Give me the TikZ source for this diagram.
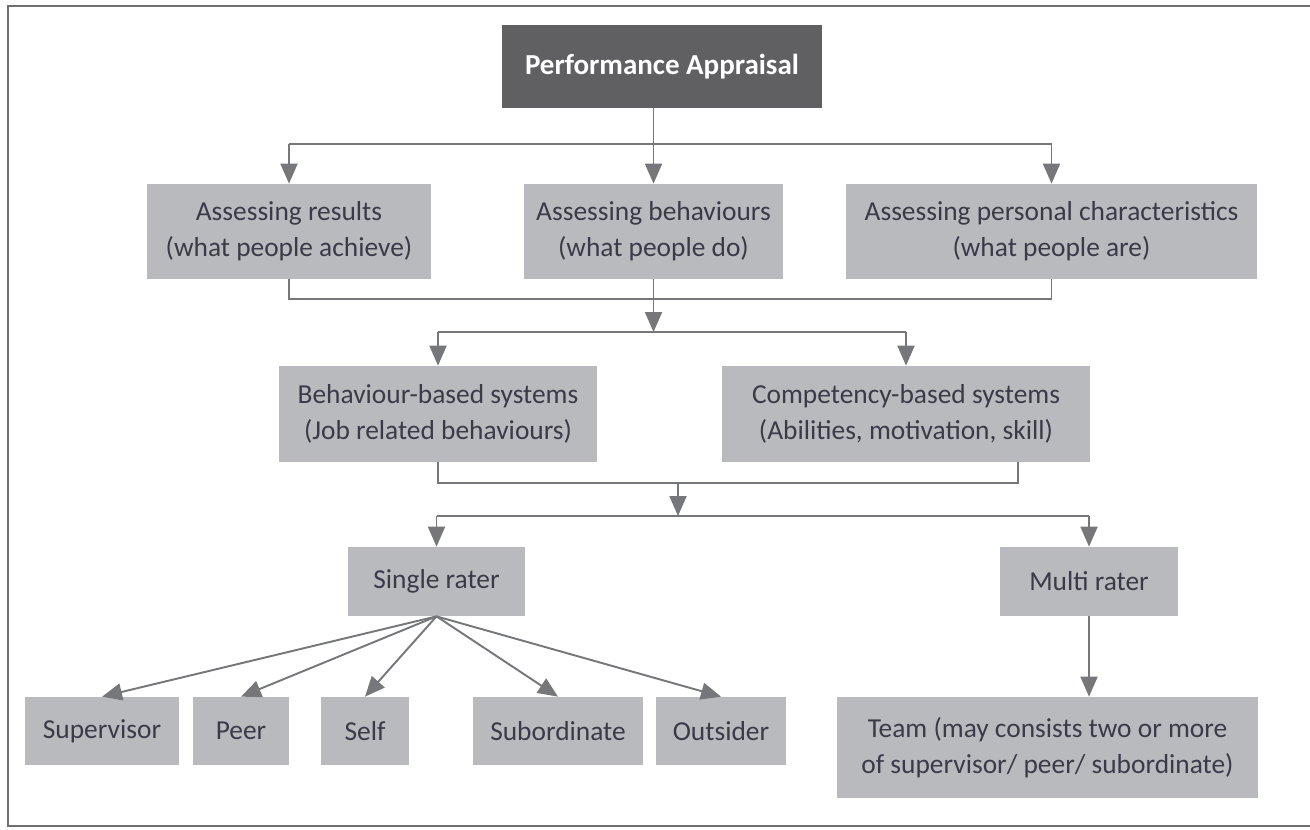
\documentclass[tikz,border=0pt]{standalone}
\usepackage{fontspec}
\setmainfont{Carlito}
\usetikzlibrary{arrows.meta,calc}
\definecolor{boxgray}{RGB}{185,186,190}
\definecolor{darkgray}{RGB}{96,96,99}
\definecolor{linegray}{RGB}{118,119,123}
\definecolor{textgray}{RGB}{58,58,72}
\definecolor{framegray}{RGB}{112,112,114}
\begin{document}
\begin{tikzpicture}[
		x=0.02cm, y=-0.02cm,
		box/.style={fill=boxgray, text=textgray, inner sep=0pt, align=center,
			font=\fontsize{15.6}{20.5}\selectfont},
		dark box/.style={fill=darkgray, text=white, inner sep=0pt, align=center,
			font=\fontsize{16.5}{20}\selectfont\bfseries},
		link/.style={draw=linegray, line width=1.1pt},
		arrow/.style={link, -{Triangle[length=0.4cm, width=0.34cm]}}
		]
		\useasboundingbox (0,0) rectangle (1310,829);
		
		% ---------------------------------------------------------
		% Frame
		% ---------------------------------------------------------
		\draw[framegray, line width=1.6pt] (1320,6) -- (8,6) -- (8,826) -- (1320,826);
		
		% ---------------------------------------------------------
		% Boxes
		% ---------------------------------------------------------
		\node[dark box, minimum width=320*0.02cm, minimum height=83*0.02cm] (pa) at (662,66.5) {Performance Appraisal};
		
		\node[box, minimum width=284*0.02cm, minimum height=95*0.02cm] (res) at (289,231.5) {Assessing results\\(what people achieve)};
		\node[box, minimum width=259*0.02cm, minimum height=95*0.02cm] (beh) at (653.5,231.5) {Assessing behaviours\\(what people do)};
		\node[box, minimum width=411*0.02cm, minimum height=95*0.02cm] (per) at (1051.5,231.5) {Assessing personal characteristics\\(what people are)};
		
		\node[box, minimum width=318*0.02cm, minimum height=96*0.02cm] (bbs) at (438,414) {Behaviour-based systems\\(Job related behaviours)};
		\node[box, minimum width=368*0.02cm, minimum height=96*0.02cm] (cbs) at (906,414) {Competency-based systems\\(Abilities, motivation, skill)};
		
		\node[box, minimum width=177*0.02cm, minimum height=69*0.02cm] (single) at (436.5,581.5) {Single rater};
		\node[box, minimum width=178*0.02cm, minimum height=69*0.02cm] (multi) at (1089,581.5) {Multi rater};
		
		\foreach \n/\cx/\w/\t in {sup/102/154/Supervisor, peer/241/96/Peer, self/365/88/Self,
			sub/558/170/Subordinate, out/721/130/Outsider} {
			\node[box, minimum width=\w*0.02cm, minimum height=68*0.02cm] (\n) at (\cx,731) {\t};
		}
		\node[box, minimum width=421*0.02cm, minimum height=101*0.02cm] (team) at (1047.5,747.5) {Team (may consists two or more\\of supervisor/ peer/ subordinate)};
		
		% ---------------------------------------------------------
		% Connectors
		% ---------------------------------------------------------
		\coordinate (busA) at (0,144);
		\coordinate (busB) at (0,299);
		\coordinate (busC) at (0,332);
		\coordinate (busD) at (0,483);
		\coordinate (busE) at (0,516);
		\coordinate (midD) at (678,483);
		\coordinate (cbsOut) at ($(cbs.south east)+(-72,0)$);
		
		% level 1
		\draw[link] (beh.north |- pa.south) -- (beh.north |- busA);
		\draw[link] (res.north |- busA) -- (per.north |- busA);
		\foreach \n in {res,beh,per} {
			\draw[arrow] (\n.north |- busA) -- (\n.north);
		}
		
		% level 2
		\draw[link] (res.south) -- (res.south |- busB) -- (per.south |- busB) -- (per.south);
		\draw[arrow] (beh.south) -- (beh.south |- busC);
		\draw[link] (bbs.north |- busC) -- (cbs.north |- busC);
		\foreach \n in {bbs,cbs} {
			\draw[arrow] (\n.north |- busC) -- (\n.north);
		}
		
		% level 3
		\draw[link] (bbs.south) -- (bbs.south |- busD) -- (cbsOut |- busD) -- (cbsOut);
		\draw[arrow] (midD) -- (midD |- busE);
		\draw[link] (single.north |- busE) -- (multi.north |- busE);
		\foreach \n in {single,multi} {
			\draw[arrow] (\n.north |- busE) -- (\n.north);
		}
		
		% raters
		\foreach \n in {sup,peer,self,sub,out} {
			\draw[arrow] (single.south) -- (\n.north);
		}
		\draw[arrow] (multi.south) -- (multi.south |- team.north);
		
	\end{tikzpicture}
\end{document}
